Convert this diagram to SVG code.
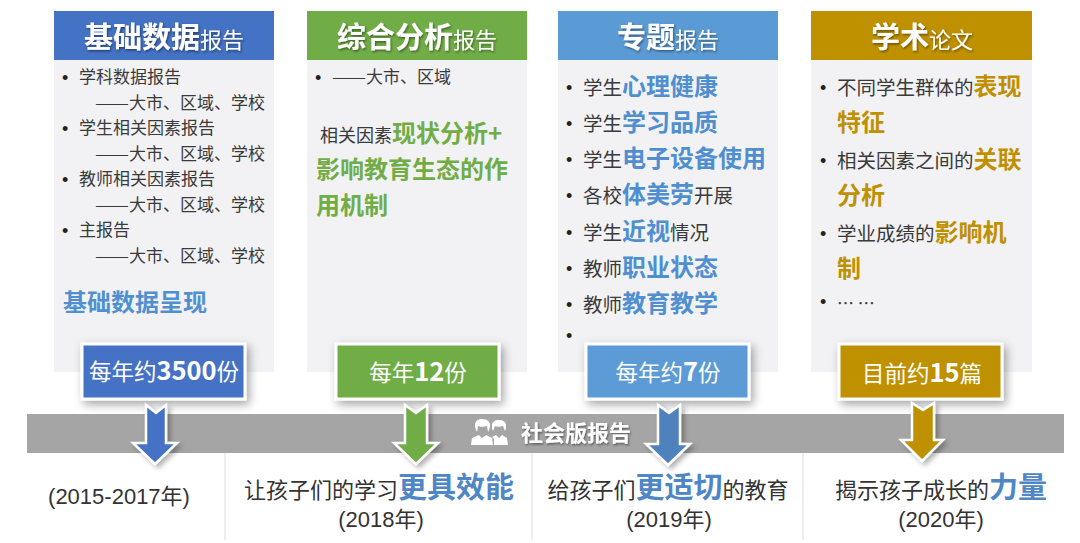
<svg xmlns="http://www.w3.org/2000/svg" width="1080" height="543" viewBox="0 0 1080 543">
<defs>
<filter id="sh" x="-20%" y="-30%" width="140%" height="170%"><feDropShadow dx="3" dy="4" stdDeviation="5" flood-color="#000" flood-opacity=".35"/></filter>
<filter id="ts" x="-10%" y="-20%" width="120%" height="150%"><feDropShadow dx="1" dy="1.5" stdDeviation="1" flood-color="#000" flood-opacity=".45"/></filter>
<filter id="as" x="-30%" y="-20%" width="160%" height="140%"><feDropShadow dx="3" dy="3" stdDeviation="2.5" flood-color="#000" flood-opacity=".3"/></filter>
</defs>
<style>
text{font-family:"Noto Sans CJK SC","Liberation Sans",sans-serif;fill:#3a3a3a}
.p{fill:#f2f2f4}
.hd{font-size:29px;font-weight:700;fill:#fff;text-anchor:middle}
.hd tspan{font-size:22px;font-weight:400}
.l1{font-size:17px}
.l2{font-size:19.5px}
.l2 tspan,.l3 tspan{font-size:24px;font-weight:700}
.l3{font-size:18px}
.bu{font-family:"Liberation Sans",sans-serif;font-size:18px;fill:#222}
.bd{stroke:#fff;stroke-width:3}
.bt{font-size:22.5px;fill:#fff;text-anchor:middle}
.bt tspan{font-size:25.5px;font-weight:700}
.ar{stroke:#fff;stroke-width:2.5;stroke-linejoin:miter}
.cap{font-size:22px;fill:#333;text-anchor:middle}
.cap tspan{font-size:29px;font-weight:700;fill:#4f86c6}
.yr{font-family:"Liberation Sans","Noto Sans CJK SC",sans-serif;font-size:22px;fill:#333;text-anchor:middle}
.dv{stroke:#dcdcdc;stroke-width:1}
</style>

<g id="panel-basic">
<rect class="p" x="54" y="60" width="220" height="312"/>
<rect x="54" y="11" width="220" height="49" fill="#4472c4"/>
<text class="hd" x="164" y="48" filter="url(#ts)">基础数据<tspan>报告</tspan></text>
<text class="bu" x="62" y="84">•</text><text class="l1" x="79" y="83">学科数据报告</text>
<text class="l1" x="95" y="108.5"><tspan textLength="34" lengthAdjust="spacingAndGlyphs">——</tspan>大市、区域、学校</text>
<text class="bu" x="62" y="135">•</text><text class="l1" x="79" y="134">学生相关因素报告</text>
<text class="l1" x="95" y="159.5"><tspan textLength="34" lengthAdjust="spacingAndGlyphs">——</tspan>大市、区域、学校</text>
<text class="bu" x="62" y="186">•</text><text class="l1" x="79" y="185">教师相关因素报告</text>
<text class="l1" x="95" y="210.5"><tspan textLength="34" lengthAdjust="spacingAndGlyphs">——</tspan>大市、区域、学校</text>
<text class="bu" x="62" y="237">•</text><text class="l1" x="79" y="236">主报告</text>
<text class="l1" x="95" y="261.5"><tspan textLength="34" lengthAdjust="spacingAndGlyphs">——</tspan>大市、区域、学校</text>
<text x="63" y="311" font-size="24" font-weight="700" style="fill:#5090d0">基础数据呈现</text>
</g>

<g id="panel-analysis">
<rect class="p" x="307" y="60" width="220" height="312"/>
<rect x="307" y="11" width="220" height="49" fill="#70ad47"/>
<text class="hd" x="417" y="48" filter="url(#ts)">综合分析<tspan>报告</tspan></text>
<text class="bu" x="315" y="84">•</text><text class="l1" x="332" y="83"><tspan textLength="34" lengthAdjust="spacingAndGlyphs">——</tspan>大市、区域</text>
<text class="l3" x="320" y="142">相关因素<tspan style="fill:#70ad47">现状分析+</tspan></text>
<text class="l3" x="316" y="178"><tspan style="fill:#70ad47">影响教育生态的作</tspan></text>
<text class="l3" x="316" y="214"><tspan style="fill:#70ad47">用机制</tspan></text>
</g>

<g id="panel-special">
<rect class="p" x="558" y="60" width="220" height="312"/>
<rect x="558" y="11" width="220" height="49" fill="#5b9bd5"/>
<text class="hd" x="668" y="48" filter="url(#ts)">专题<tspan>报告</tspan></text>
<text class="bu" x="566" y="94">•</text><text class="l2" x="583" y="95">学生<tspan style="fill:#4f8fd0">心理健康</tspan></text>
<text class="bu" x="566" y="130">•</text><text class="l2" x="583" y="131">学生<tspan style="fill:#4f8fd0">学习品质</tspan></text>
<text class="bu" x="566" y="166">•</text><text class="l2" x="583" y="167">学生<tspan style="fill:#4f8fd0">电子设备使用</tspan></text>
<text class="bu" x="566" y="202">•</text><text class="l2" x="583" y="203">各校<tspan style="fill:#4f8fd0">体美劳</tspan>开展</text>
<text class="bu" x="566" y="239">•</text><text class="l2" x="583" y="240">学生<tspan style="fill:#4f8fd0">近视</tspan>情况</text>
<text class="bu" x="566" y="275">•</text><text class="l2" x="583" y="276">教师<tspan style="fill:#4f8fd0">职业状态</tspan></text>
<text class="bu" x="566" y="311">•</text><text class="l2" x="583" y="312">教师<tspan style="fill:#4f8fd0">教育教学</tspan></text>
<text class="bu" x="566" y="342">•</text>
</g>

<g id="panel-papers">
<rect class="p" x="811" y="60" width="221" height="312"/>
<rect x="811" y="11" width="221" height="49" fill="#bf9000"/>
<text class="hd" x="922" y="48" filter="url(#ts)">学术<tspan>论文</tspan></text>
<text class="bu" x="820" y="94">•</text><text class="l2" x="837" y="95">不同学生群体的<tspan style="fill:#bf9000">表现</tspan></text>
<text class="l2" x="837" y="131"><tspan style="fill:#bf9000">特征</tspan></text>
<text class="bu" x="820" y="167">•</text><text class="l2" x="837" y="168">相关因素之间的<tspan style="fill:#bf9000">关联</tspan></text>
<text class="l2" x="837" y="204"><tspan style="fill:#bf9000">分析</tspan></text>
<text class="bu" x="820" y="240">•</text><text class="l2" x="837" y="241">学业成绩的<tspan style="fill:#bf9000">影响机</tspan></text>
<text class="l2" x="837" y="277"><tspan style="fill:#bf9000">制</tspan></text>
<text class="bu" x="820" y="308">•</text><text class="l1" x="837" y="310">… …</text>
</g>

<g id="band">
<rect x="27" y="414" width="1037" height="39" fill="#a5a5a5"/>
<g fill="#fff">
<path d="M477 432c-1-2-2-4-2-7 0-4 3-6 7-6s8 2 8 6c0 3-1 5-2 7l-1-6c-3 1-7 1-9 0z"/>
<path d="M471 445l1-7 7-3 3 3 4-3 6 3 1 7z"/>
<path d="M493 431c-1-2-1-3-1-6 0-3 3-5 7-5s7 2 7 5c0 3 0 4-1 6l-2-5c-3 1-6 1-8 0z"/>
<path d="M494 445l0-6-2-2 4-2 3 3 3-3 5 3 1 7z"/>
</g>
<text x="521" y="441" font-size="22" font-weight="700" style="fill:#fff" filter="url(#ts)">社会版报告</text>
</g>

<g id="badges">
<g id="badge-1"><rect class="bd" x="82" y="344" width="163" height="55" fill="#4472c4" filter="url(#sh)"/><text class="bt" x="164" y="380">每年约<tspan>3500</tspan>份</text></g>
<g id="badge-2"><rect class="bd" x="336" y="344" width="163" height="55" fill="#70ad47" filter="url(#sh)"/><text class="bt" x="418" y="381">每年<tspan>12</tspan>份</text></g>
<g id="badge-3"><rect class="bd" x="586" y="344" width="163" height="55" fill="#5b9bd5" filter="url(#sh)"/><text class="bt" x="668" y="381">每年约<tspan>7</tspan>份</text></g>
<g id="badge-4"><rect class="bd" x="839" y="344" width="163" height="55" fill="#bf9000" filter="url(#sh)"/><text class="bt" x="922" y="382">目前约<tspan>15</tspan>篇</text></g>
</g>

<g id="connectors">
<polygon class="ar" fill="#4472c4" filter="url(#as)" points="146,405 156,413 166,405 166,443 177,443 155,464 133,443 146,443"/>
<polygon class="ar" fill="#70ad47" filter="url(#as)" points="405,405 416,413 427,405 427,443 438,443 416,464 394,443 405,443"/>
<polygon class="ar" fill="#4f81bd" filter="url(#as)" points="658,405 669,413 680,405 680,444 690,444 668,465 646,444 658,444"/>
<polygon class="ar" fill="#bf9000" filter="url(#as)" points="912,403 923,410 934,403 934,440 943,440 922,461 901,440 912,440"/>
</g>

<g id="captions">
<line class="dv" x1="225" y1="453" x2="225" y2="540"/>
<line class="dv" x1="532" y1="453" x2="532" y2="540"/>
<line class="dv" x1="803" y1="453" x2="803" y2="540"/>
<text class="yr" x="119" y="504">(2015-2017年)</text>
<text class="cap" x="379" y="498">让孩子们的学习<tspan>更具效能</tspan></text>
<text class="yr" x="381" y="527">(2018年)</text>
<text class="cap" x="668" y="498">给孩子们<tspan>更适切</tspan>的教育</text>
<text class="yr" x="669" y="527">(2019年)</text>
<text class="cap" x="941" y="498">揭示孩子成长的<tspan>力量</tspan></text>
<text class="yr" x="941" y="527">(2020年)</text>
</g>
</svg>
